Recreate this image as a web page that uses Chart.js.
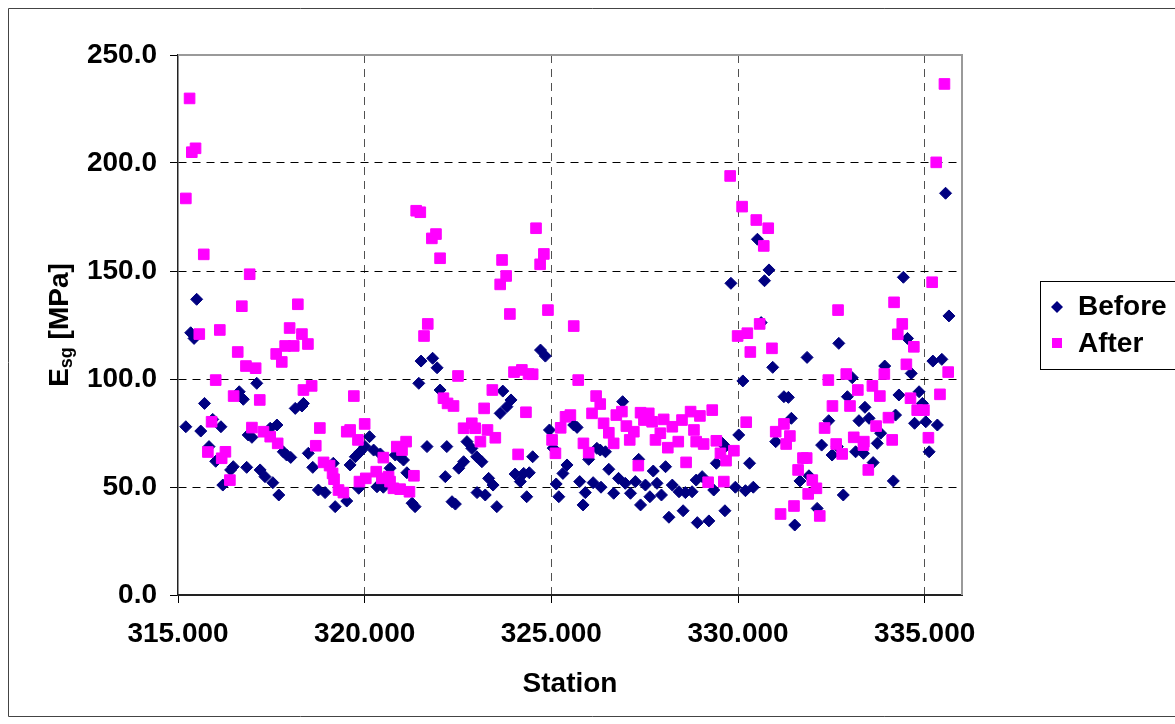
<!DOCTYPE html>
<html>
<head>
<meta charset="utf-8">
<script src="https://cdn.jsdelivr.net/npm/chart.js@4.4.1/dist/chart.umd.min.js"></script>
<style>
  html, body { margin: 0; padding: 0; background: #fff; }
  #wrap { width: 1175px; height: 724px; position: relative; }
  canvas { display: block; }
</style>
</head>
<body>
<div id="wrap"><canvas id="c" width="1175" height="724"></canvas></div>
<script>
// ---- Data ----
const beforeStation = [
  315.21,315.34,315.43,315.50,315.61,315.71,315.83,315.93,316.01,316.15,
  316.20,316.41,316.48,316.64,316.75,316.84,316.88,316.98,317.11,317.20,
  317.33,317.47,317.54,317.65,317.70,317.82,317.91,318.02,318.14,318.32,
  318.36,318.49,318.61,318.76,318.94,319.16,319.21,319.52,319.61,319.75,
  319.84,319.88,320.01,320.13,320.24,320.33,320.42,320.50,320.68,320.82,
  320.95,321.04,321.13,321.27,321.35,321.45,321.51,321.67,321.82,321.94,
  322.02,322.16,322.20,322.34,322.43,322.52,322.65,322.74,322.87,323.00,
  323.01,323.14,323.23,323.32,323.44,323.54,323.63,323.70,323.81,323.92,
  324.03,324.17,324.26,324.34,324.41,324.50,324.71,324.84,324.95,325.05,
  325.13,325.20,325.31,325.42,325.60,325.69,325.76,325.85,325.91,326.00,
  326.12,326.22,326.31,326.33,326.45,326.54,326.67,326.80,326.91,326.98,
  327.12,327.25,327.34,327.39,327.52,327.64,327.73,327.83,327.95,328.06,
  328.15,328.24,328.42,328.53,328.59,328.77,328.88,328.91,329.04,329.22,
  329.35,329.42,329.58,329.65,329.66,329.81,329.93,330.02,330.13,330.20,
  330.31,330.41,330.52,330.62,330.71,330.83,330.93,331.01,331.23,331.35,
  331.43,331.52,331.66,331.85,331.90,332.12,332.24,332.43,332.52,332.66,
  332.70,332.82,332.93,333.06,333.15,333.24,333.36,333.40,333.51,333.62,
  333.73,333.82,333.93,334.16,334.22,334.31,334.43,334.54,334.64,334.73,
  334.85,334.94,335.03,335.12,335.22,335.34,335.46,335.56,335.65
];
const beforeEsg = [
  77.9,121.4,118.8,136.9,75.9,88.7,68.7,81.3,61.9,77.9,
  50.9,57.9,59.4,94.1,90.6,59.1,74.1,73.0,98.0,57.9,
  54.8,77.2,52.0,78.7,46.3,66.3,64.8,63.7,86.4,87.5,
  88.7,65.6,59.1,48.6,47.4,61.0,40.9,43.5,60.2,64.0,
  49.4,66.3,68.7,73.3,67.1,50.1,65.3,49.9,58.7,64.8,
  64.0,62.5,56.6,42.5,40.9,98.0,108.3,68.7,109.6,105.2,
  94.9,54.8,68.7,43.2,42.1,58.7,61.7,71.0,67.9,64.0,
  47.4,61.7,46.3,54.0,50.9,40.9,84.1,94.4,87.2,90.3,
  56.0,52.5,56.3,45.5,56.6,64.0,113.4,110.6,76.4,68.0,
  51.4,45.5,56.3,60.2,78.7,77.6,52.5,41.7,47.4,62.8,
  52.0,67.9,67.1,49.9,66.3,58.2,47.1,54.0,89.5,51.7,
  47.1,52.5,62.8,41.7,50.9,45.5,57.4,51.7,46.3,59.4,
  36.0,50.9,47.8,39.0,47.4,47.8,53.2,33.5,54.8,34.3,
  48.6,61.0,70.2,39.0,68.7,144.3,49.9,74.1,99.1,48.3,
  61.0,49.9,164.7,126.1,145.5,150.5,105.4,71.0,91.8,91.5,
  81.8,32.4,52.8,110.0,55.2,40.1,69.4,80.7,64.8,68.7,
  116.5,46.3,91.8,100.6,66.3,80.7,65.6,86.9,81.8,61.3,
  70.2,74.9,106.0,52.8,83.3,92.6,147.1,118.8,102.6,79.5,
  94.1,88.7,80.2,66.3,108.3,78.7,109.1,186.0,129.2
];
const afterStation = [
  315.21,315.31,315.37,315.47,315.57,315.69,315.80,315.90,316.01,316.12,
  316.17,316.27,316.39,316.49,316.60,316.71,316.82,316.92,316.98,317.08,
  317.19,317.29,317.47,317.63,317.67,317.78,317.87,317.99,318.10,318.21,
  318.32,318.36,318.48,318.58,318.69,318.80,318.90,319.06,319.14,319.18,
  319.30,319.43,319.52,319.61,319.71,319.82,319.86,320.00,320.03,320.31,
  320.46,320.50,320.64,320.68,320.77,320.86,320.95,321.00,321.11,321.20,
  321.32,321.38,321.49,321.59,321.69,321.80,321.91,322.02,322.11,322.22,
  322.38,322.50,322.65,322.87,322.96,323.10,323.20,323.29,323.42,323.50,
  323.63,323.68,323.79,323.89,324.00,324.11,324.21,324.32,324.39,324.50,
  324.59,324.70,324.80,324.91,325.02,325.11,325.25,325.38,325.51,325.60,
  325.72,325.86,326.00,326.09,326.20,326.31,326.40,326.54,326.67,326.74,
  326.89,327.01,327.10,327.21,327.33,327.39,327.48,327.61,327.70,327.79,
  327.92,328.01,328.12,328.24,328.40,328.50,328.61,328.73,328.82,328.88,
  328.98,329.08,329.20,329.31,329.42,329.53,329.62,329.68,329.79,329.89,
  329.99,330.11,330.22,330.25,330.33,330.49,330.58,330.69,330.81,330.91,
  331.01,331.14,331.23,331.29,331.39,331.50,331.61,331.74,331.84,331.88,
  331.99,332.10,332.19,332.32,332.42,332.53,332.63,332.68,332.79,332.90,
  333.00,333.10,333.21,333.36,333.37,333.49,333.60,333.70,333.80,333.92,
  334.03,334.13,334.18,334.28,334.40,334.51,334.62,334.71,334.80,334.98,
  335.10,335.20,335.31,335.41,335.53,335.63
];
const afterEsg = [
  183.6,229.9,205.0,206.8,120.8,157.7,66.2,80.2,99.5,122.7,
  63.3,66.3,53.2,92.1,112.5,133.7,106.0,148.5,77.5,105.0,
  90.3,75.6,73.3,111.6,70.2,107.9,115.3,123.6,115.3,134.6,
  120.8,94.9,116.2,96.8,69.1,77.3,61.4,59.9,56.3,53.6,
  48.6,47.4,75.6,76.4,92.1,71.8,52.5,79.2,54.0,57.1,
  54.0,63.6,54.8,52.5,49.4,68.7,49.0,67.1,71.0,47.8,
  55.2,177.9,177.2,119.9,125.5,165.1,167.1,155.9,91.1,88.7,
  87.5,101.4,77.2,79.5,77.2,71.0,86.4,76.4,94.9,72.8,
  143.8,155.1,147.7,130.1,103.2,65.1,104.2,84.6,102.3,102.2,
  169.8,153.1,157.9,131.9,71.8,65.6,77.4,82.5,83.3,124.5,
  99.5,70.2,65.9,84.1,92.1,88.4,79.5,75.1,70.2,83.3,
  84.9,78.2,71.8,75.6,59.9,84.4,81.0,84.1,80.2,71.8,
  74.9,81.3,68.2,77.9,71.0,81.0,61.4,84.9,76.4,71.0,
  82.9,69.9,52.2,85.6,71.4,65.6,52.5,62.2,194.0,66.8,
  119.9,179.8,80.0,121.2,112.5,173.6,125.5,161.6,169.8,114.2,
  75.6,37.5,79.2,69.9,73.6,41.2,57.9,63.4,63.4,46.8,
  53.2,49.4,36.6,77.3,99.5,87.5,69.9,131.9,65.3,102.3,
  87.5,73.0,94.9,69.4,71.0,57.9,96.8,78.2,92.1,102.3,
  82.1,71.8,135.5,120.7,125.5,106.8,91.1,114.9,85.6,85.6,
  72.8,144.8,200.3,92.9,236.6,103.2
];
const stationTicks = [315, 320, 325, 330, 335];
const esgTicks = [0, 50, 100, 150, 200, 250];
const seriesNames = ['Before', 'After'];

// ---- Styles ----
const FONT = "'Liberation Sans', Arial, sans-serif";
const NAVY = '#000080';
const MAGENTA = '#FF00FF';

const toPoints = (xs, ys) => xs.map((x, i) => ({ x: x, y: ys[i] }));

const decorPlugin = {
  id: 'decor',
  afterDraw(chart) {
    const ctx = chart.ctx;
    const a = chart.chartArea;
    ctx.save();
    // plot area top/right border (grey)
    ctx.strokeStyle = '#9a9a9a';
    ctx.lineWidth = 2;
    ctx.beginPath();
    ctx.moveTo(a.left, a.top);
    ctx.lineTo(a.right, a.top);
    ctx.lineTo(a.right, a.bottom);
    ctx.stroke();

    // outer chart border
    ctx.strokeStyle = '#444';
    ctx.lineWidth = 1;
    ctx.beginPath();
    ctx.moveTo(1180, 8.5);
    ctx.lineTo(8.5, 8.5);
    ctx.lineTo(8.5, 716.5);
    ctx.lineTo(1180, 716.5);
    ctx.stroke();

    // x-axis title
    ctx.fillStyle = '#000';
    ctx.font = 'bold 28px ' + FONT;
    ctx.textAlign = 'center';
    ctx.textBaseline = 'middle';
    ctx.fillText('Station', (a.left + a.right) / 2, 684);

    // y-axis title with subscript
    ctx.save();
    const cy = (a.top + a.bottom) / 2;
    ctx.translate(68, cy);
    ctx.rotate(-Math.PI / 2);
    ctx.textBaseline = 'alphabetic';
    ctx.textAlign = 'left';
    const big = 'bold 28px ' + FONT;
    const small = 'bold 18px ' + FONT;
    ctx.font = big; const wE = ctx.measureText('E').width;
    ctx.font = small; const wS = ctx.measureText('sg').width;
    ctx.font = big; const wR = ctx.measureText(' [MPa]').width;
    let x = -(wE + wS + wR) / 2;
    ctx.font = big; ctx.fillText('E', x, 0); x += wE;
    ctx.font = small; ctx.fillText('sg', x, 4); x += wS;
    ctx.font = big; ctx.fillText(' [MPa]', x, 0);
    ctx.restore();

    // legend
    ctx.strokeStyle = '#000';
    ctx.lineWidth = 1;
    ctx.fillStyle = '#fff';
    ctx.fillRect(1040.5, 281.5, 150, 88);
    ctx.strokeRect(1040.5, 281.5, 150, 88);
    // diamond
    ctx.fillStyle = NAVY;
    ctx.beginPath();
    ctx.moveTo(1057, 301); ctx.lineTo(1063, 307); ctx.lineTo(1057, 313); ctx.lineTo(1051, 307);
    ctx.closePath(); ctx.fill();
    // square
    ctx.fillStyle = MAGENTA;
    ctx.fillRect(1052, 338, 10, 10);
    ctx.fillStyle = '#000';
    ctx.font = 'bold 28px ' + FONT;
    ctx.textAlign = 'left';
    ctx.textBaseline = 'middle';
    ctx.fillText(seriesNames[0], 1078, 307);
    ctx.fillText(seriesNames[1], 1078, 344);
    ctx.restore();
  }
};

new Chart(document.getElementById('c'), {
  type: 'scatter',
  data: {
    datasets: [
      {
        label: seriesNames[0],
        data: toPoints(beforeStation, beforeEsg),
        pointStyle: 'rectRot',
        pointRadius: 6,
        pointHoverRadius: 6,
        backgroundColor: NAVY,
        borderColor: NAVY,
        borderWidth: 1,
        order: 1
      },
      {
        label: seriesNames[1],
        data: toPoints(afterStation, afterEsg),
        pointStyle: 'rect',
        pointRadius: 7.5,
        pointHoverRadius: 7.5,
        backgroundColor: MAGENTA,
        borderColor: MAGENTA,
        borderWidth: 1,
        order: 0
      }
    ]
  },
  options: {
    responsive: false,
    animation: false,
    devicePixelRatio: 1,
    layout: { padding: { left: 0, top: 55, right: 213, bottom: 0 } },
    plugins: {
      legend: { display: false },
      tooltip: { enabled: false },
      title: { display: false }
    },
    scales: {
      x: {
        type: 'linear',
        position: 'bottom',
        min: 315,
        max: 336,
        afterBuildTicks: (s) => { s.ticks = stationTicks.map(v => ({ value: v })); },
        afterFit: (s) => { s.height = 129; },
        ticks: {
          callback: (v) => Number(v).toFixed(3),
          font: { family: FONT, size: 28, weight: 'bold' },
          color: '#000',
          padding: 14,
          maxRotation: 0,
          autoSkip: false
        },
        grid: {
          color: (c) => (c.tick && c.tick.value === 315) ? 'rgba(0,0,0,0)' : '#505050',
          lineWidth: 1,
          tickLength: 8,
          tickColor: '#000',
          drawTicks: true
        },
        border: { display: true, color: '#222', width: 2, dash: [8, 6] }
      },
      y: {
        type: 'linear',
        min: 0,
        max: 250,
        afterBuildTicks: (s) => { s.ticks = esgTicks.map(v => ({ value: v })); },
        afterFit: (s) => { s.width = 178; },
        ticks: {
          callback: (v) => Number(v).toFixed(1),
          font: { family: FONT, size: 28, weight: 'bold' },
          color: '#000',
          padding: 13
        },
        grid: {
          color: (c) => (c.tick && (c.tick.value === 0 || c.tick.value === 250)) ? 'rgba(0,0,0,0)' : '#000',
          lineWidth: 1,
          tickLength: 8,
          tickColor: '#000',
          drawTicks: true
        },
        border: { display: true, color: '#222', width: 1.5, dash: [8, 6] }
      }
    }
  },
  plugins: [decorPlugin]
});
</script>
</body>
</html>
